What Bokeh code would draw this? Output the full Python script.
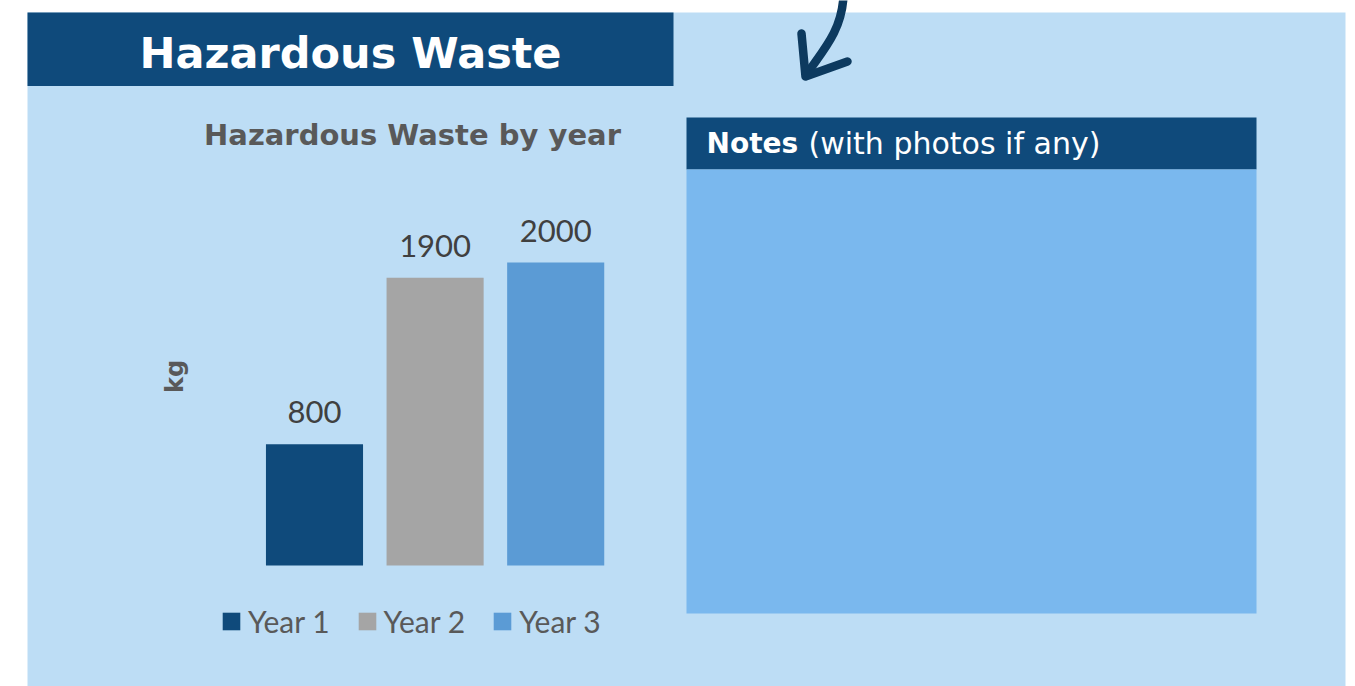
from bokeh.plotting import figure
from bokeh.models import Range1d, ColumnDataSource, Legend, LegendItem
from bokeh.core.properties import value
from bokeh.embed import file_html
from bokeh.resources import INLINE
import math

# ---- data ----
categories = ["Year 1", "Year 2", "Year 3"]
waste_kg = [800, 1900, 2000]
bar_colors = ["#0F4A7B", "#A5A5A5", "#5B9BD5"]
value_labels = [str(v) for v in waste_kg]

page_title = "Hazardous Waste"
chart_title = "Hazardous Waste by year"
axis_label = "kg"
notes_bold = "Notes"
notes_rest = "(with photos if any)"

# ---- colours / fonts ----
BG = "#BDDDF5"
DARK = "#0F4A7B"
NOTES_BODY = "#7AB8EE"
ARROW = "#0D3A5F"
GREY_TXT = "#595959"
VAL_TXT = "#404040"
HEAD_FONT = "DejaVu Sans"
BODY_FONT = "Lato"

W, H = 1355, 686
p = figure(width=W, height=H, output_backend="svg", toolbar_location=None,
           x_range=Range1d(0, W), y_range=Range1d(H, 0),
           min_border=0, outline_line_color=None,
           background_fill_color="white", border_fill_color="white")
p.axis.visible = False
p.grid.visible = False

# value scale for the bars: 0 kg at y 565, 0.1515 px per kg
px_per_kg = 0.1515
zero_y = 565.0
p.extra_y_ranges = {"val": Range1d(-(H - zero_y) / px_per_kg, zero_y / px_per_kg)}
# category scale: index 0 centred at x 314, 120.6 px per step
step = 120.6
c0 = 314.0
p.extra_x_ranges = {"cat": Range1d(-c0 / step, (W - c0) / step)}

# backgrounds
p.quad(left=27, right=1345, top=12, bottom=700, fill_color=BG, line_color=None)
p.quad(left=27, right=673, top=12, bottom=85.5, fill_color=DARK, line_color=None)
p.quad(left=686, right=1256, top=117, bottom=169, fill_color=DARK, line_color=None)
p.quad(left=686, right=1256, top=169, bottom=613, fill_color=NOTES_BODY, line_color=None)

# arrow
p.bezier(x0=[843], y0=[-4], x1=[806], y1=[74], cx0=[841], cy0=[30], cx1=[824], cy1=[48],
         line_color=ARROW, line_width=8.5, line_cap="round")
p.line(x=[801, 805, 847], y=[33, 76, 61], line_color=ARROW, line_width=8.5,
       line_cap="round", line_join="round")

# titles
p.text(x=[350], y=[52], text=[page_title], text_color="white",
       text_font=value(HEAD_FONT), text_font_style="bold", text_font_size="43px",
       text_align="center", text_baseline="alphabetic")
p.text(x=[412], y=[134], text=[chart_title], text_color=GREY_TXT,
       text_font=value(HEAD_FONT), text_font_style="bold", text_font_size="29px",
       text_align="center", text_baseline="alphabetic")
p.text(x=[706], y=[143], text=[notes_bold], text_color="white",
       text_font=value(HEAD_FONT), text_font_style="bold", text_font_size="28px",
       text_align="left", text_baseline="alphabetic")
p.text(x=[808], y=[143], text=[notes_rest], text_color="white",
       text_font=value(HEAD_FONT), text_font_size="30px",
       text_align="left", text_baseline="alphabetic")
p.text(x=[174], y=[376], text=[axis_label], text_color=GREY_TXT,
       text_font=value(HEAD_FONT), text_font_style="bold", text_font_size="24px",
       text_align="center", text_baseline="middle", angle=math.pi / 2)

# bars
src = ColumnDataSource(dict(idx=list(range(len(categories))), kg=waste_kg,
                            color=bar_colors, label=value_labels, cat=categories))
bars = p.vbar(x="idx", top="kg", bottom=0, width=0.805, source=src,
              fill_color="color", line_color=None,
              x_range_name="cat", y_range_name="val")
p.text(x="idx", y="kg", text="label", source=src, x_range_name="cat", y_range_name="val",
       y_offset=-32, text_color=VAL_TXT, text_font=value(BODY_FONT), text_font_size="31px",
       text_align="center", text_baseline="alphabetic")

# legend
items = [LegendItem(label=c, renderers=[bars], index=i) for i, c in enumerate(categories)]
legend = Legend(items=items, orientation="horizontal", location=(220, H - 639),
                glyph_width=22, glyph_height=22, label_standoff=6, spacing=26,
                padding=0, margin=0, border_line_color=None, background_fill_alpha=0,
                label_text_font=BODY_FONT, label_text_font_size="30px",
                label_text_color=GREY_TXT, label_height=30)
p.add_layout(legend)

open("out.html", "w").write(file_html(p, INLINE))
